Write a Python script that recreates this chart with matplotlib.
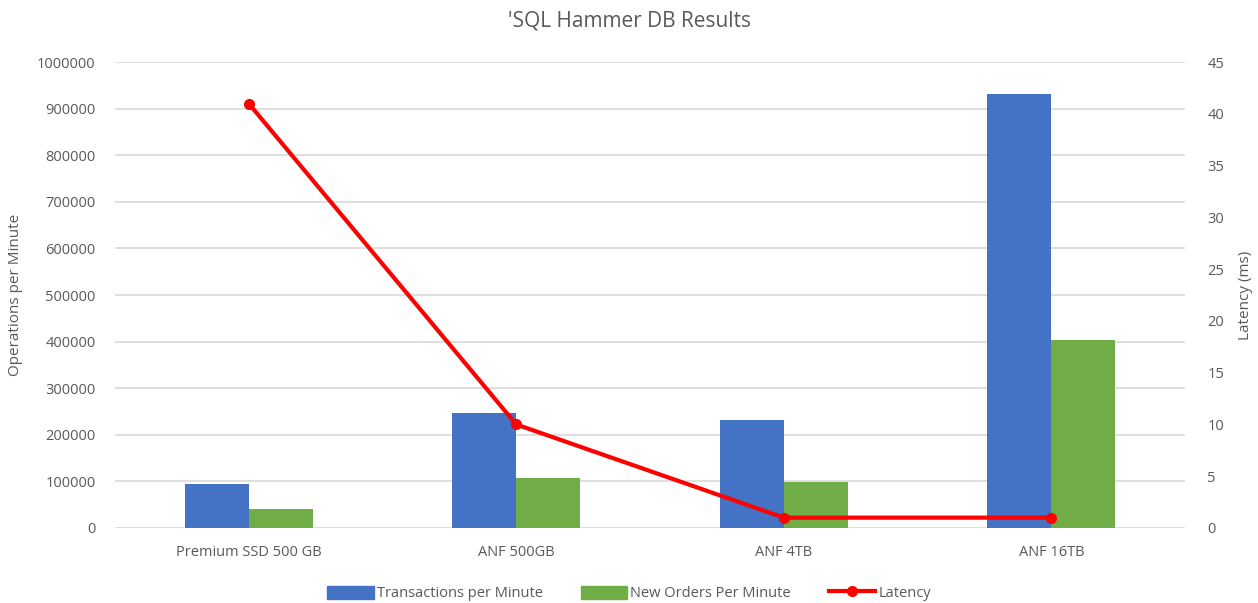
import matplotlib
matplotlib.use('Agg')
import matplotlib.pyplot as plt
import numpy as np
from matplotlib.lines import Line2D
from matplotlib.patches import Patch

# data
categories = ['Premium SSD 500 GB', 'ANF 500GB', 'ANF 4TB', 'ANF 16TB']
transactions = [95000, 247000, 232000, 931000]
new_orders = [41000, 107000, 99000, 403000]
latency = [41, 10, 1, 1]

plt.rcParams['font.family'] = ['Open Sans', 'DejaVu Sans']
txt = '#595959'
blue = '#4472C4'
green = '#70AD47'
red = '#FF0000'

fig = plt.figure(figsize=(12.58, 6.03), dpi=100)
ax = fig.add_axes([0.0914, 0.1244, 0.8506, 0.7726])
ax2 = ax.twinx()

x = np.arange(len(categories))
w = 0.24
ax.bar(x - w / 2, transactions, w, color=blue, zorder=2)
ax.bar(x + w / 2, new_orders, w, color=green, zorder=2)

ax2.plot(x, latency, color=red, linewidth=3, marker='o', markersize=7, zorder=3)

ax.set_xlim(-0.5, len(categories) - 0.5)
ax.set_ylim(0, 1000000)
ax.set_yticks(np.arange(0, 1000001, 100000))
ax.set_yticklabels([str(v) for v in range(0, 1000001, 100000)])
ax2.set_ylim(0, 45)
ax2.set_yticks(np.arange(0, 46, 5))

ax.set_xticks(x)
ax.set_xticklabels(categories)

ax.grid(axis='y', color='#d9d9d9', linewidth=1.2, zorder=0)
for a in (ax, ax2):
    for s in a.spines.values():
        s.set_visible(False)
    a.tick_params(length=0, colors=txt, labelsize=10.5)
ax.tick_params(axis='y', pad=14)
ax2.tick_params(axis='y', pad=16)
ax.tick_params(axis='x', pad=12)

ax.set_ylabel('Operations per Minute', color=txt, fontsize=11, labelpad=10)
ax2.set_ylabel('Latency (ms)', color=txt, fontsize=11, labelpad=10)
ax2.set_zorder(ax.get_zorder() + 1)
ax.patch.set_visible(False)

fig.text(0.5, 0.965, "'SQL Hammer DB Results", ha='center', va='center',
         fontsize=15, color=txt)

handles = [Patch(color=blue), Patch(color=green),
           Line2D([0], [0], color=red, linewidth=3, marker='o', markersize=7)]
labels = ['Transactions per Minute', 'New Orders Per Minute', 'Latency']
fig.legend(handles, labels, loc='center', bbox_to_anchor=(0.5, 0.016),
           ncol=3, frameon=False, fontsize=10.5, labelcolor=txt,
           handlelength=3.2, handleheight=1.0, handletextpad=0.2, columnspacing=2.6)

fig.savefig('out.png', dpi=100)
